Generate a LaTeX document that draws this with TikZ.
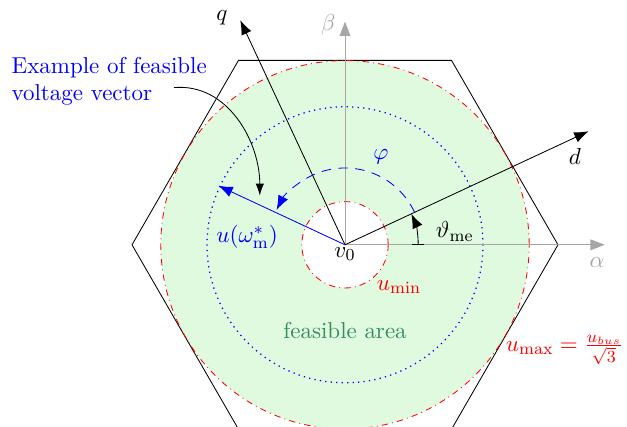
\documentclass[tikz,border=0pt]{standalone}
\usepackage{tikz}
\usepackage{amsmath}
\usetikzlibrary{arrows.meta,calc,positioning}

\definecolor{feasgreen}{RGB}{224,250,224}
\definecolor{areagreen}{RGB}{52,140,90}

\begin{document}
\begin{tikzpicture}[font=\fontsize{10.9}{13}\selectfont,
  vec/.style={-{Latex[length=2.4mm,width=1.8mm]}},
  axis/.style={gray!70,-{Triangle[length=2.4mm,width=1.8mm]}},
  lbl/.style={inner sep=1pt}]
  \useasboundingbox (-5.75,-3.03) rectangle (4.7,4.08);
  \coordinate (v0) at (0,0);

  % feasible area and limits
  \fill[feasgreen,even odd rule] (v0) circle (3.07) (v0) circle (0.72);
  \draw (0:3.55) \foreach \a in {60,120,...,300}{ -- (\a:3.55)} -- cycle;
  \draw[red,dash dot] (v0) circle (3.07);
  \draw[red,dash dot] (v0) circle (0.72);
  \draw[blue,dotted,line width=0.6pt] (v0) circle (2.3);

  % stator and rotor frames
  \draw[axis] (v0) -- (4.33,0) coordinate (al);
  \draw[axis] (v0) -- (0,3.72) coordinate (be);
  \draw[vec] (v0) -- (25:4.48) coordinate (dd);
  \draw[vec] (v0) -- (115:4.13) coordinate (qq);
  \draw[blue,vec] (v0) -- (155:2.33) coordinate (uu);
  \draw[blue,dashed,dash pattern=on 4.5pt off 3.5pt,vec] (25:1.28) arc (25:153:1.28);
  \draw[{Bar[width=2mm]}-{Latex[length=2.4mm,width=1.8mm]}] (1.22,0) arc (0:25:1.22);

  \node[lbl,gray!70] (alpha) at (4.2,-0.3) {$\alpha$};
  \node[lbl,gray!70] (beta) at (-0.28,3.67) {$\beta$};
  \node[lbl] (d) at (3.83,1.47) {$d$};
  \node[lbl] (q) at (-2.05,3.78) {$q$};
  \node[lbl] (v) at (0,-0.15) {$v_0$};
  \node[lbl,blue] (phi) at (0.6,1.47) {$\varphi$};
  \node[lbl] (theta) at (1.83,0.22) {$\vartheta_{\mathrm{me}}$};
  \node[lbl,blue] (u) at (-1.63,0.13) {$u(\omega_{\mathrm{m}}^{*})$};
  \node[lbl,red] (umin) at (0.9,-0.7) {$u_{\min}$};
  \node[lbl,areagreen] (area) at (0,-1.43) {feasible area};
  \node[lbl,red,anchor=west] (umax) at (2.64,-1.75) {$u_{\max}=\frac{u_{bus}}{\sqrt{3}}$};

  % annotation
  \node[lbl,blue,align=left] (ex) at (-3.93,2.73) {Example of feasible\\voltage vector};
  \coordinate (start) at (-2.85,2.62);
  \coordinate (tip) at (-1.42,0.82);
  \draw[-{Latex[length=2mm,width=1.4mm]}] (start) to[out=5,in=90] (tip);
\end{tikzpicture}
\end{document}
